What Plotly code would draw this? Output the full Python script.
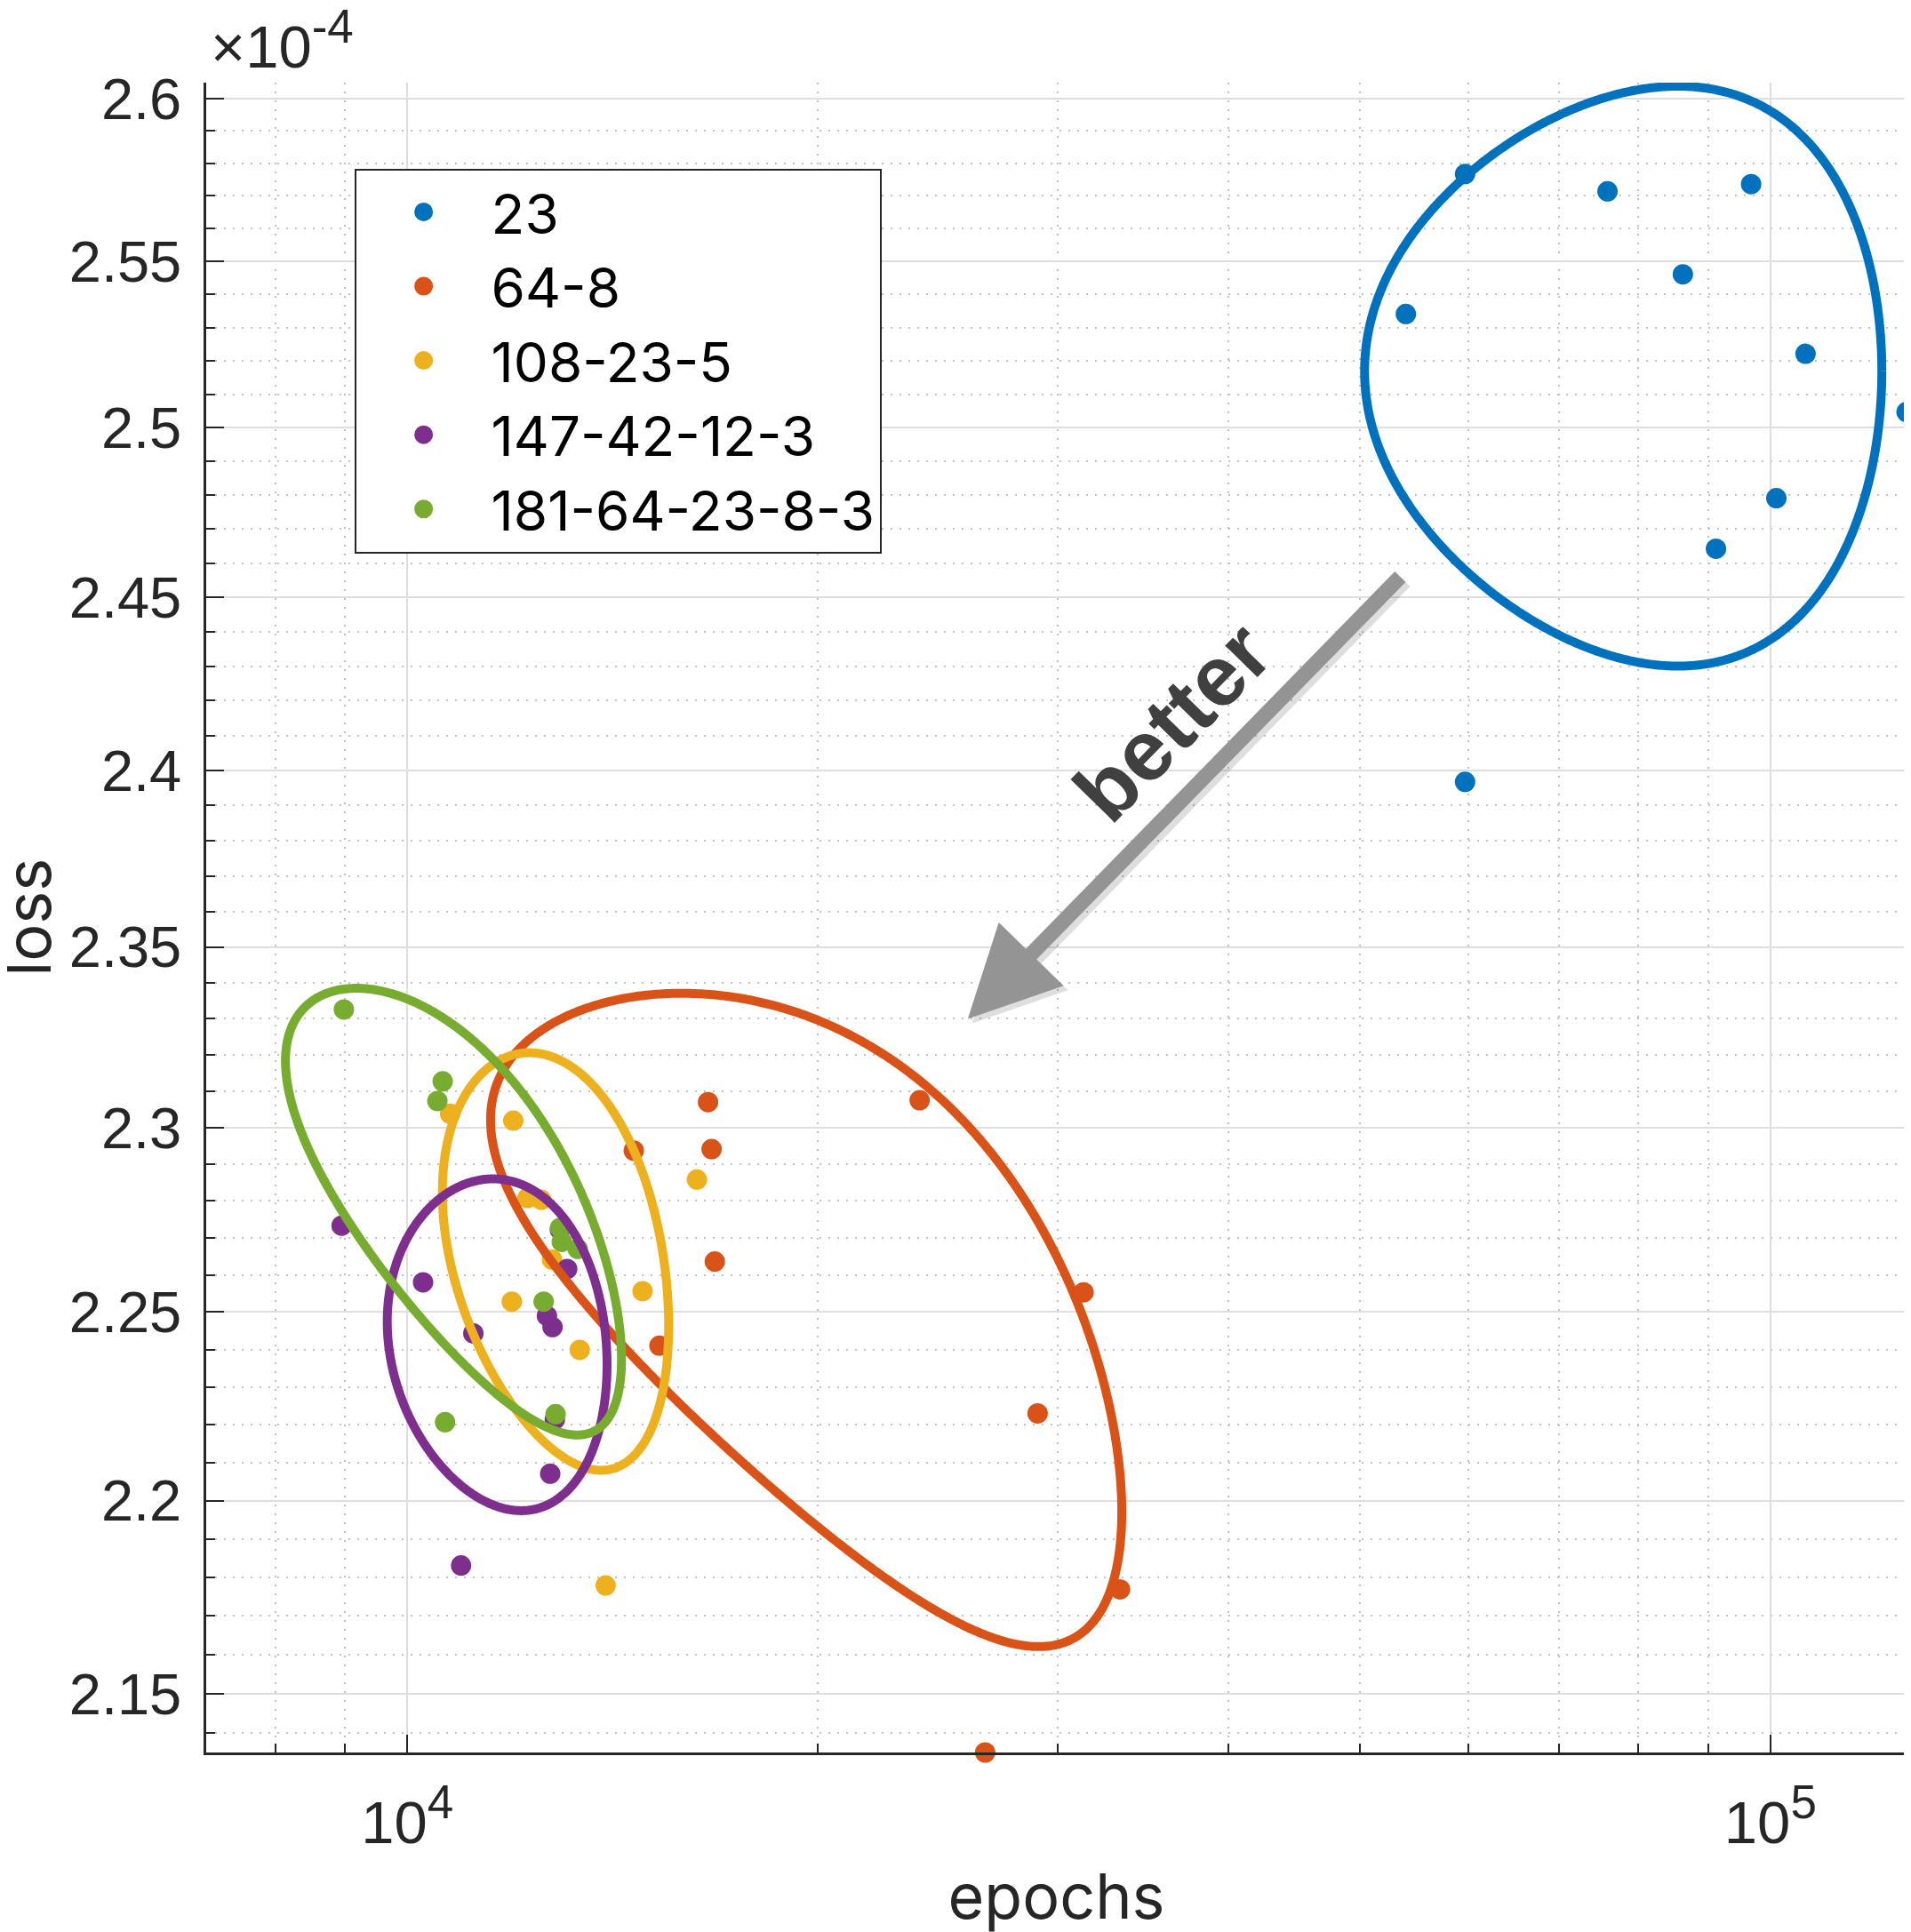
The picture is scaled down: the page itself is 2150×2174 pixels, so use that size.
import numpy as np
import plotly.graph_objects as go

# ---------------- data ----------------
series_names = ["23", "64-8", "108-23-5", "147-42-12-3", "181-64-23-8-3"]
colors = ["#0072BD", "#D95319", "#EDB120", "#7E2F8E", "#77AC30"]

epochs_23 = [59700, 54020, 75940, 86250, 96790, 106110, 125850, 101000, 91210, 59700]
loss_23 = [2.5767, 2.5341, 2.5714, 2.5461, 2.5736, 2.5221, 2.5047, 2.4791, 2.4642, 2.3967]

epochs_64_8 = [16620, 16720, 16810, 14660, 15310, 23760, 31340, 29000, 33330, 26540]
loss_64_8 = [2.3070, 2.2941, 2.2636, 2.2937, 2.2410, 2.3075, 2.2553, 2.2230, 2.1769, 2.1350]

epochs_108_23_5 = [10750, 11960, 12250, 12540, 12770, 11930, 13380, 14880, 16310, 13980]
loss_108_23_5 = [2.3038, 2.3019, 2.2808, 2.2803, 2.2641, 2.2528, 2.2399, 2.2556, 2.2858, 2.1779]

epochs_147_42_12_3 = [8950, 10270, 11180, 13100, 12660, 12780, 12830, 12730, 10950, 12940]
loss_147_42_12_3 = [2.2733, 2.2580, 2.2443, 2.2616, 2.2490, 2.2460, 2.2214, 2.2071, 2.1831, 2.2722]

epochs_181_64_23_8_3 = [7120, 8984, 10616, 10521, 12944, 12982, 13335, 12590, 12846, 10659]
loss_181_64_23_8_3 = [2.3238, 2.3326, 2.3127, 2.3073, 2.2727, 2.2689, 2.2670, 2.2528, 2.2228, 2.2207]

# confidence ellipses (linear data space): centre, half extents, correlation
ell_cx = [85540, 22470, 13080, 11840, 11250]
ell_rx = [35160, 10960, 2470, 2173, 3110]
ell_cy = [2.5169, 2.2496, 2.2643, 2.2417, 2.2779]
ell_ry = [0.0869, 0.0875, 0.0563, 0.0443, 0.0606]
ell_rho = [0.0, -0.60, -0.32, -0.13, -0.667]

loss_scale = 1e-4
y_major = [2.15, 2.2, 2.25, 2.3, 2.35, 2.4, 2.45, 2.5, 2.55, 2.6]
y_major_labels = ["2.15", "2.2", "2.25", "2.3", "2.35", "2.4", "2.45", "2.5", "2.55", "2.6"]
y_minor = [round(v, 2) for v in np.arange(2.14, 2.605, 0.01) if round(v, 2) not in y_major]
x_major = [1e4, 1e5]
x_major_labels = ["10<sup><span style='font-size:53px'>4</span></sup>",
                  "10<sup><span style='font-size:53px'>5</span></sup>"]
x_minor = [7000, 8000, 9000, 20000, 30000, 40000, 50000, 60000, 70000, 80000, 90000]

epochs_all = [epochs_23, epochs_64_8, epochs_108_23_5, epochs_147_42_12_3, epochs_181_64_23_8_3]
loss_all = [loss_23, loss_64_8, loss_108_23_5, loss_147_42_12_3, loss_181_64_23_8_3]

AX = "#262626"
FONT = "Liberation Sans, Arial, Helvetica, sans-serif"
WIDE_FONT = "Inter, Liberation Sans, Arial, sans-serif"

fig = go.Figure()

for name, c, xs, ys in zip(series_names, colors, epochs_all, loss_all):
    fig.add_trace(go.Scatter(
        x=xs, y=[v * loss_scale for v in ys], mode="markers", name=name,
        marker=dict(size=18, color=c, line=dict(width=5, color=c)),
        cliponaxis=False,
    ))

t = np.linspace(0, 2 * np.pi, 721)
ex_all, ey_all = [], []
for c, cx, rx, cy, ry, rho in zip(colors, ell_cx, ell_rx, ell_cy, ell_ry, ell_rho):
    ex = cx + rx * np.cos(t)
    ey = cy + ry * (rho * np.cos(t) + np.sqrt(1 - rho ** 2) * np.sin(t))
    ex_all.append(ex)
    ey_all.append(ey)
    fig.add_trace(go.Scatter(
        x=ex, y=ey * loss_scale, mode="lines", showlegend=False,
        line=dict(color=c, width=10, simplify=False), cliponaxis=False, hoverinfo="skip",
    ))

# tight axes (like MATLAB "axis tight"), small pad on top so the ellipse stroke is not clipped
all_x = np.concatenate([np.concatenate([np.array(v, float) for v in epochs_all])] + ex_all)
all_y = np.concatenate([np.concatenate([np.array(v, float) for v in loss_all])] + ey_all) * loss_scale
xr = [np.log10(all_x.min()), np.log10(all_x.max())]
yr = [np.log10(all_y.min()), np.log10(all_y.max())]
yr[1] += (yr[1] - yr[0]) * 4.0 / 1879

fig.update_layout(
    width=2150, height=2174,
    margin=dict(l=224, r=13, t=85, b=210),
    paper_bgcolor="white", plot_bgcolor="white",
    font=dict(family=FONT, size=64, color=AX),
    showlegend=True,
    legend=dict(
        x=0.0871, y=0.9486, xanchor="left", yanchor="top",
        bgcolor="white", bordercolor=AX, borderwidth=2,
        font=dict(family=WIDE_FONT, size=62, color="black"),
        itemwidth=142, tracegroupgap=0,
    ),
)

fig.update_xaxes(
    type="log", range=xr, tickmode="array", tickvals=x_major, ticktext=x_major_labels,
    ticks="inside", ticklen=20, tickwidth=2, tickcolor=AX,
    showline=True, linecolor=AX, linewidth=2.5, mirror=False,
    showgrid=True, gridcolor="#dedede", gridwidth=2, zeroline=False,
    minor=dict(tickvals=x_minor, ticks="inside", ticklen=10, tickwidth=2, tickcolor=AX,
               showgrid=True, gridcolor="#c2c2c2", gridwidth=2, griddash="2px,8px"),
    tickfont=dict(family=FONT, size=67, color=AX), ticklabelstandoff=19,
    title=dict(text="epochs", font=dict(family=WIDE_FONT, size=70, color=AX), standoff=23),
    automargin=False,
)

fig.update_yaxes(
    type="log", range=yr, tickmode="array",
    tickvals=[v * loss_scale for v in y_major], ticktext=y_major_labels,
    ticks="inside", ticklen=20, tickwidth=2, tickcolor=AX,
    showline=True, linecolor=AX, linewidth=2.5, mirror=False,
    showgrid=True, gridcolor="#dedede", gridwidth=2, zeroline=False,
    minor=dict(tickvals=[v * loss_scale for v in y_minor], ticks="inside", ticklen=10, tickwidth=2,
               tickcolor=AX, showgrid=True, gridcolor="#c2c2c2", gridwidth=2, griddash="2px,8px"),
    tickfont=dict(family=FONT, size=65, color=AX), ticklabelstandoff=12,
    automargin=False,
)

# y-axis title (placed explicitly, MATLAB-like position)
fig.add_annotation(xref="paper", yref="paper", x=-0.1050, y=0.5, xanchor="center", yanchor="middle",
                   text="loss", textangle=-90, showarrow=False,
                   font=dict(family=WIDE_FONT, size=70, color=AX))

# exponent label
fig.add_annotation(xref="paper", yref="paper", x=0.0016, y=1.0255, xanchor="left", yanchor="middle",
                   text="\u00d710<sup><span style='font-size:53px'>-4</span></sup>", showarrow=False,
                   font=dict(family=FONT, size=67, color=AX))

# "better" arrow with soft shadow
for dx, dy, col in [(5, 5, "rgba(0,0,0,0.13)"), (0, 0, "#949494")]:
    fig.add_annotation(xref="paper", yref="paper",
                       x=0.4479 + dx / 1913, y=0.4393 - dy / 1879,
                       ax=488, ay=-499, text="", showarrow=True,
                       arrowhead=2, arrowsize=1.2, arrowwidth=17, arrowcolor=col, standoff=0)

fig.add_annotation(xref="paper", yref="paper", x=0.5682, y=0.6178, xanchor="center", yanchor="middle",
                   text="<b>better</b>", showarrow=False, textangle=-45.6,
                   font=dict(size=96, color="#404040", family=FONT))

fig.write_html("out.html")
